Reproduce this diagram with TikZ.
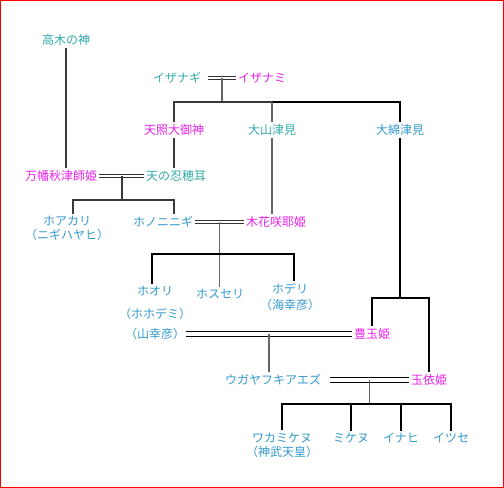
\documentclass[tikz,border=0pt]{standalone}
\usepackage{fontspec}
\newfontfamily\jp[RawFeature=+halt]{Noto Sans CJK JP}
\usepackage{tikz}
\usetikzlibrary{positioning,calc}
\definecolor{kamiteal}{RGB}{51,170,170}
\definecolor{kamiblue}{RGB}{51,153,204}
\definecolor{hime}{RGB}{232,34,232}
\tikzset{
  kami/.style   ={inner sep=2bp, align=center, text=kamiteal,
                  font=\jp\fontsize{12bp}{14bp}\selectfont},
  miko/.style   ={kami, text=kamiblue},
  megami/.style ={kami, text=hime},
  kin/.style    ={line width=2bp, draw=black},
  kinD/.style   ={kin, draw=black!78},
  kinT/.style   ={line width=1.2bp, draw=black!60},
  marry/.style  ={draw=black!80, line width=1.1bp, double=white, double distance=1.8bp},
  marryW/.style ={draw=black, line width=1.4bp, double=white, double distance=4bp},
}
\begin{document}
\begin{tikzpicture}[x=1bp, y=-1bp]
  \useasboundingbox (0,0) rectangle (504,488);
  \draw[red, line width=1bp] (0.5,0.5) rectangle (503.5,487.5);

  % first generation
  \node[kami] (takagi) at (66,40) {高木の神};
  \node[kami] (izanagi) at (177,78) {イザナギ};
  \node[megami] (izanami) at (262,78) {イザナミ};

  % children of izanagi / izanami
  \node[megami] (amaterasu) at (174,130) {天照大御神};
  \node[kami] (oyamatsumi) at (272,130) {大山津見};
  \node[miko] (watatsumi) at (400,130) {大綿津見};

  \node[megami] (yorozu) at (61,176) {万幡秋津師姫};
  \node[kami] (oshiho) at (176,176) {天の忍穂耳};

  \node[miko] (hoakari) at (67,228.5) {ホアカリ\\（ニギハヤヒ）};
  \node[miko] (ninigi) at (163,222) {ホノニニギ};
  \node[megami] (sakuya) at (276,222) {木花咲耶姫};

  % grandchildren of ninigi
  \node[miko] (hoori) at (155,302.5) {ホオリ\\[9bp]（ホホデミ）};
  \node[miko] (yamasachi) at (155,334) {（山幸彦）};
  \node[miko] (hosuseri) at (220,294) {ホスセリ};
  \node[miko] (hoderi) at (290,297) {ホデリ\\[2bp]（海幸彦）};
  \node[megami] (toyotama) at (372,334) {豊玉姫};

  \node[miko] (ugaya) at (273,380) {ウガヤフキアエズ};
  \node[megami] (tamayori) at (429,380) {玉依姫};

  % last generation
  \node[miko] (wakamikenu) at (282,445) {ワカミケヌ\\（神武天皇）};
  \node[miko] (mikenu) at (351,438) {ミケヌ};
  \node[miko] (inahi) at (401,438) {イナヒ};
  \node[miko] (itsuse) at (451,438) {イツセ};

  % levels of the horizontal bars
  \coordinate (lv1) at (0,102);
  \coordinate (lv2) at (0,200);
  \coordinate (lv3) at (0,254);
  \coordinate (lv4) at (0,298);
  \coordinate (lv5) at (0,404);

  % marriages
  \draw[marry] ([xshift=5bp]izanagi.east) -- coordinate (izm) (izanami.west);
  \draw[marry] (yorozu) -- coordinate (yom) (oshiho);
  \draw[marry] (ninigi) -- coordinate (nim) (sakuya);
  \draw[marryW] ([xshift=5bp]yamasachi.east) -- coordinate (yam) (toyotama.west);
  \draw[marryW] ([xshift=7bp]ugaya.east) -- coordinate (ugm) (tamayori.west);

  % descent
  \draw[kinD] (takagi) -- (takagi |- yorozu.north);
  \draw[kinT] (izm) -- (izm |- lv1);
  \draw[kinD] (amaterasu.north) |- (lv1 -| oyamatsumi);
  \draw[kin] (lv1 -| oyamatsumi) -| (watatsumi.north);
  \draw[kinT] (lv1 -| oyamatsumi) -- (oyamatsumi.north);
  \draw[kinT] (oyamatsumi.south) -- (oyamatsumi |- sakuya.north);
  \draw[kinD] (amaterasu.south) -- (amaterasu |- oshiho.north);

  \draw[kinD] (yom) -- (yom |- lv2);
  \draw[kinD] ([xshift=6bp]hoakari.north) |- (amaterasu |- lv2) -- (amaterasu |- ninigi.north);

  \draw[kinT] (nim) -- (nim |- hosuseri.north);
  \draw[kin] ([xshift=-3bp]hoori.north) |- ([xshift=4bp]hoderi.north |- lv3) -- ([xshift=4bp]hoderi.north);

  \draw[kin] (watatsumi.south) -- (watatsumi |- lv4);
  \draw[kin] (toyotama.north) |- (lv4 -| tamayori) -- (tamayori.north);

  \draw[kinT] (yam) -- (yam |- ugaya.north);
  \draw[kinT] (ugm) -- (ugm |- lv5);
  \draw[kin] (wakamikenu.north) |- (lv5 -| itsuse) -- (itsuse.north);
  \draw[kin] (lv5 -| mikenu) -- (mikenu.north);
  \draw[kin] (lv5 -| inahi) -- (inahi.north);
\end{tikzpicture}
\end{document}
